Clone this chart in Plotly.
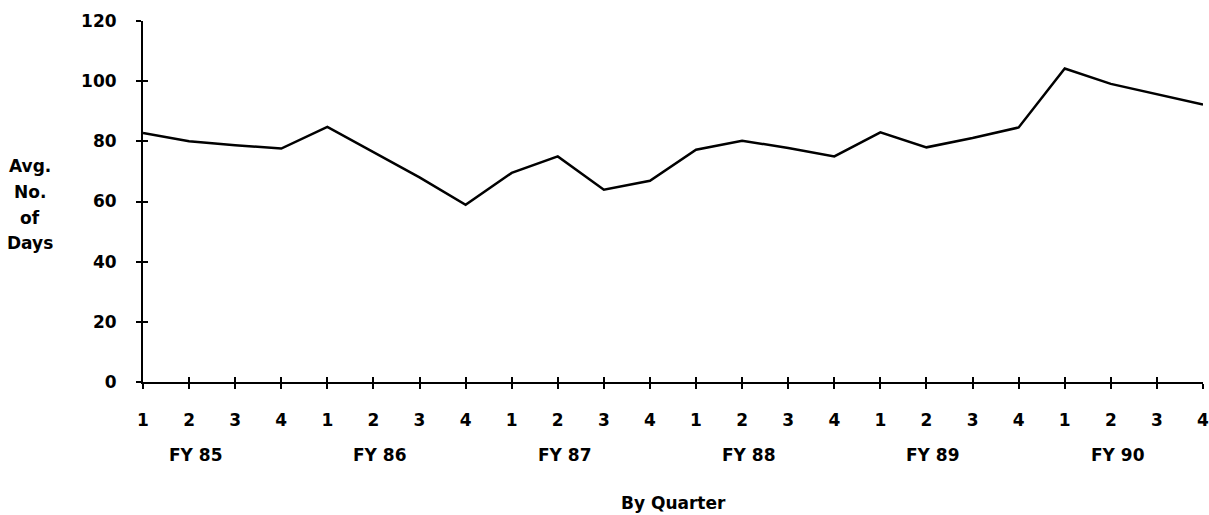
import plotly.graph_objects as go

quarter_labels = ["1", "2", "3", "4"] * 6
fiscal_years = ["FY 85", "FY 86", "FY 87", "FY 88", "FY 89", "FY 90"]
avg_days = [
    82.8, 80.0, 78.7, 77.6,
    84.8, 76.5, 68.0, 58.9,
    69.5, 75.0, 63.9, 66.9,
    77.2, 80.2, 77.8, 75.0,
    83.0, 78.0, 81.1, 84.6,
    104.2, 99.1, 95.7, 92.2,
]
y_ticks = [0, 20, 40, 60, 80, 100, 120]
y_title_lines = ["Avg.", "No.", "of", "Days"]

x_idx = list(range(len(avg_days)))
FONT = "DejaVu Sans"
fs = 17
PLOT_H = 361  # plot area height in px

fig = go.Figure()
fig.add_trace(go.Scatter(x=x_idx, y=avg_days, mode="lines",
                         line=dict(color="black", width=2.5),
                         showlegend=False, hoverinfo="skip"))
# invisible trace for overlay axes (ticks crossing the axis lines)
fig.add_trace(go.Scatter(x=[0], y=[0], xaxis="x2", yaxis="y2", mode="none",
                         showlegend=False, hoverinfo="skip"))

axis_font = dict(family=FONT, size=fs, color="black", weight="bold")
fig.update_layout(
    width=1209, height=515,
    margin=dict(l=143, r=6, t=21, b=133, autoexpand=False),
    plot_bgcolor="white", paper_bgcolor="white",
    xaxis=dict(range=[0, len(avg_days) - 1], tickvals=x_idx, ticktext=quarter_labels,
               showgrid=False, zeroline=False, showline=True, linecolor="black",
               linewidth=2, ticks="outside", ticklen=5, tickwidth=2, tickcolor="black",
               tickfont=axis_font, ticklabelstandoff=17, ticklabeloverflow="allow",
               automargin=False),
    yaxis=dict(range=[0, 120], tickvals=y_ticks,
               showgrid=False, zeroline=False, showline=True, linecolor="black",
               linewidth=2, ticks="outside", ticklen=5, tickwidth=2, tickcolor="black",
               tickfont=axis_font, ticklabelstandoff=16, ticklabeloverflow="allow",
               automargin=False),
    xaxis2=dict(overlaying="x", range=[0, len(avg_days) - 1], tickvals=x_idx,
                showticklabels=False, showgrid=False, zeroline=False, showline=False,
                ticks="inside", ticklen=5, tickwidth=2, tickcolor="black",
                automargin=False),
    yaxis2=dict(overlaying="y", range=[0, 120], tickvals=y_ticks,
                showticklabels=False, showgrid=False, zeroline=False, showline=False,
                ticks="inside", ticklen=5, tickwidth=2, tickcolor="black",
                automargin=False),
)

for i, fy in enumerate(fiscal_years):
    fig.add_annotation(x=4 * i + 1.15, y=-0.202, xref="x", yref="paper",
                       text=fy, showarrow=False, xanchor="center", yanchor="middle",
                       font=axis_font)

fig.add_annotation(x=0.5, y=-0.335, xref="paper", yref="paper", text="By Quarter",
                   showarrow=False, xanchor="center", yanchor="middle", font=axis_font)

top_px = 166.0
line_gap = 25.8
for k, line in enumerate(y_title_lines):
    ypix = top_px + k * line_gap
    fig.add_annotation(x=-0.107, y=(382 - ypix) / PLOT_H, xref="paper", yref="paper",
                       text=line, showarrow=False, xanchor="center", yanchor="middle",
                       font=axis_font)

fig.write_html("out.html", config={"displayModeBar": False},
               post_script="document.body.style.margin='0';")
